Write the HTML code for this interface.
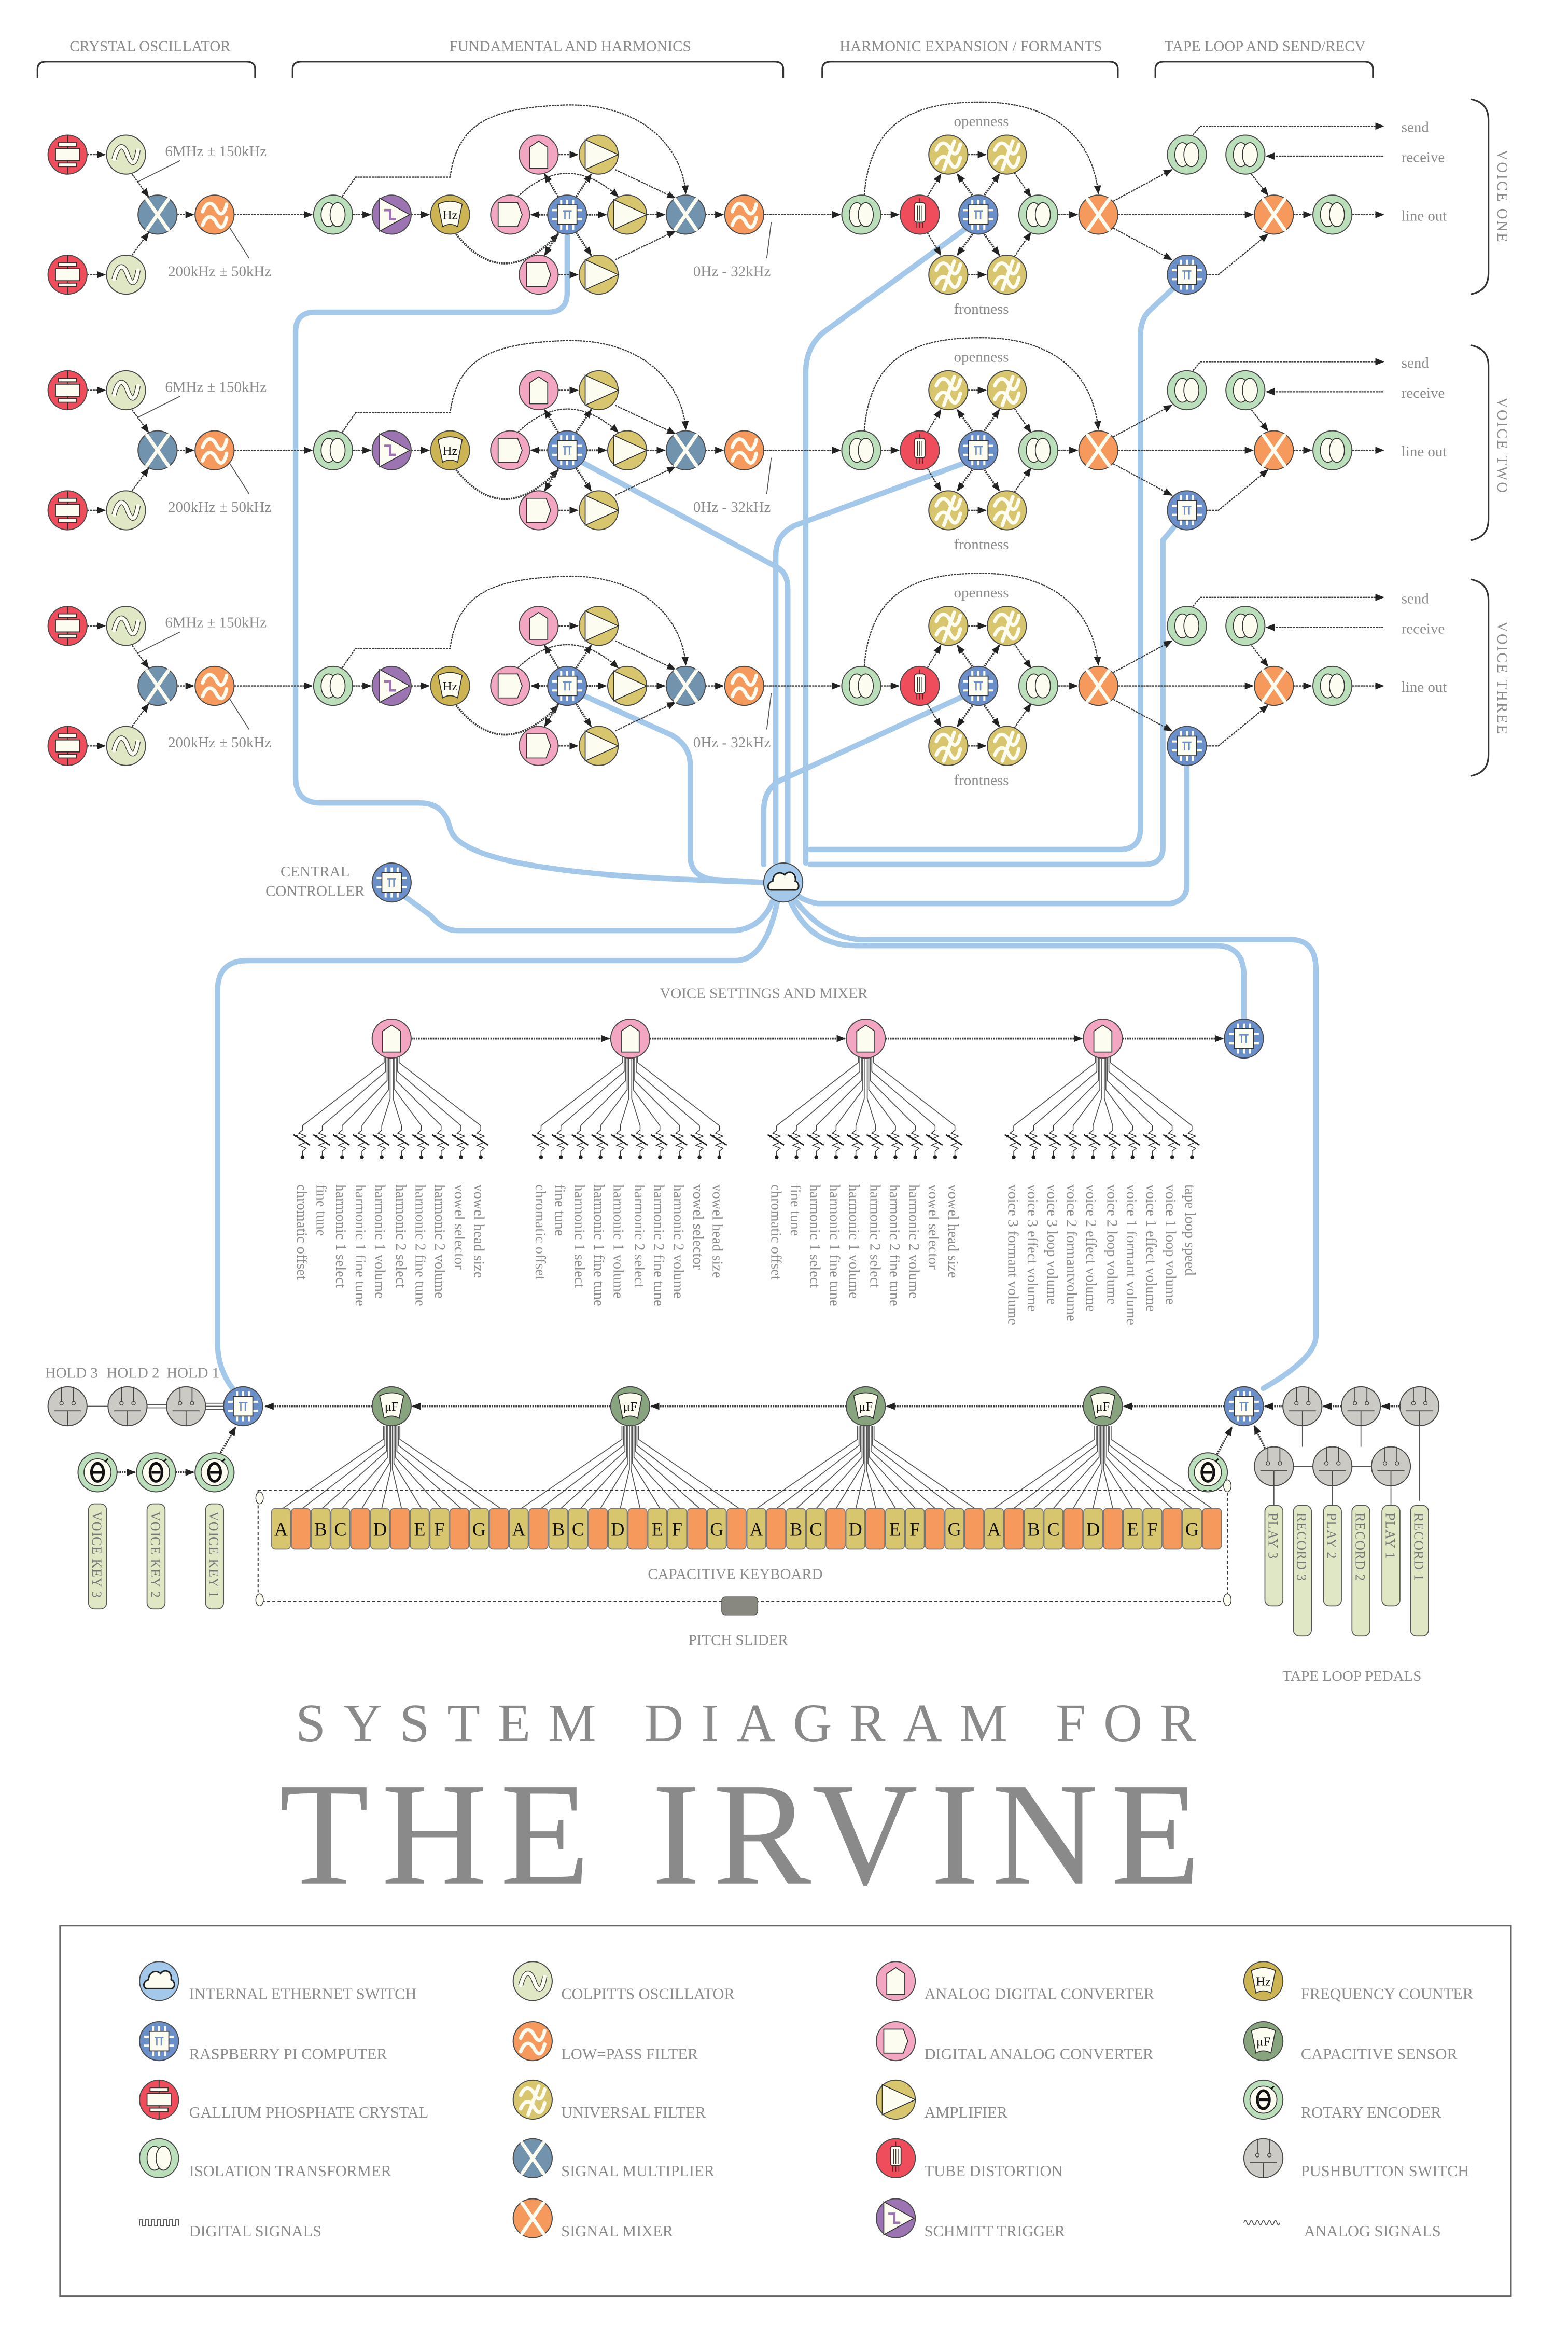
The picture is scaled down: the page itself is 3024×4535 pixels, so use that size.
<!DOCTYPE html>
<html><head><meta charset="utf-8"><style>
html,body{margin:0;padding:0;background:#fff}
svg{display:block}
text{font-family:"Liberation Serif",serif;fill:#8c8c8c}
.w path,path.w{fill:none;stroke:#3a3a3a;stroke-width:.8;stroke-dasharray:1.4 .5}
.d path,path.d{fill:none;stroke:#3a3a3a;stroke-width:1.3;stroke-dasharray:1 .6}
.l{fill:none;stroke:#555;stroke-width:.6}
.b{fill:none;stroke:#a4c8ea;stroke-width:3.6;stroke-linecap:round}
.n{stroke:#4a4a4a;stroke-width:.7}
.c{fill:#fdfcf0;stroke:#333;stroke-width:.6}
.cs{fill:none;stroke:#fdfcf0;stroke-width:2.4;stroke-linecap:round}
.br{fill:none;stroke:#333;stroke-width:1.1}
</style></head><body>
<svg width="3024" height="4535" viewBox="0 0 1045 1567.1" xmlns="http://www.w3.org/2000/svg" xmlns:xlink="http://www.w3.org/1999/xlink">
<defs>
<marker id="a" viewBox="0 0 10 10" refX="9" refY="5" markerUnits="userSpaceOnUse" markerWidth="6" markerHeight="6" orient="auto"><path d="M0,1L10,5L0,9z" fill="#222"/></marker>
<g id="crys"><circle r="13" fill="#ef4c5c" class="n"/><path d="M0,-13V13" stroke="#333" stroke-width=".6"/><rect x="-8" y="-4" width="16" height="8" class="c"/><rect x="-6" y="-8" width="12" height="2.4" class="c"/><rect x="-6" y="5.6" width="12" height="2.4" class="c"/></g>
<g id="colp"><circle r="13" fill="#dfe7c4" class="n"/><path d="M-8,3C-5,-9 -1,-6 1,0S6,9 8,-3" fill="none" stroke="#444" stroke-width="3.4"/><path d="M-8,3C-5,-9 -1,-6 1,0S6,9 8,-3" class="cs"/></g>
<g id="mult"><circle r="13" fill="#7293ad" class="n"/><path d="M-7,-10L7,10M7,-10L-7,10" class="cs" stroke-width="3.6"/></g>
<g id="mix"><circle r="13" fill="#f59a5c" class="n"/><path d="M-7,-10L7,10M7,-10L-7,10" class="cs" stroke-width="3.6"/></g>
<g id="lpf"><circle r="13" fill="#f59a5c" class="n"/><path d="M-8,-2C-5,-10 -1,-8 1,-4S6,2 8,-7M-8,7C-5,-1 -1,1 1,5S6,11 8,2" class="cs" stroke-width="3"/></g>
<g id="univ"><circle r="13" fill="#d8c66e" class="n"/><path d="M-8,-3C-5,-10 -1,-8 1,-4S6,2 8,-7M-8,6C-5,-1 -1,1 1,5S6,11 8,2M-3,10L4,-9" class="cs" stroke-width="2.6"/></g>
<g id="iso"><circle r="13" fill="#bcdfbb" class="n"/><ellipse cx="-3" rx="5" ry="8" class="c"/><ellipse cx="3" rx="5" ry="8" class="c"/></g>
<g id="sch"><circle r="13" fill="#9b74b1" class="n"/><path d="M-8,-11L12,0L-8,11Z" class="c"/><path d="M-5,-3H-1V3H3" fill="none" stroke="#9b74b1" stroke-width="1.6"/></g>
<g id="hz"><circle r="13" fill="#ccb452" class="n"/><path d="M-8,-7Q0,-11 8,-7L5,8Q0,5 -5,8Z" class="c"/></g>
<g id="uf"><circle r="13" fill="#87a47e" class="n"/><path d="M-8,-7Q0,-11 8,-7L5,8Q0,5 -5,8Z" class="c"/></g>
<g id="dac"><circle r="13" fill="#f3a6c1" class="n"/><path d="M-8,-8H5L8,0L5,8H-8Z" class="c"/></g>
<g id="adc"><circle r="13" fill="#f3a6c1" class="n"/><path d="M-6,9V-5L0,-9L6,-5V9Z" class="c"/></g>
<g id="amp"><circle r="13" fill="#d8c66e" class="n"/><path d="M-9,-10L13,0L-9,10Z" class="c"/></g>
<g id="pi"><circle r="13" fill="#6a8fc9" class="n"/><path d="M-4,-10V10M0,-10V10M4,-10V10M-10,-3H10M-10,3H10" stroke="#fdfcf0" stroke-width="1.4"/><rect x="-6.5" y="-6.5" width="13" height="13" class="c"/><path d="M-3,-2.5H3M-1.5,-2.5V3M1.5,-2.5V3" stroke="#6a8fc9" stroke-width=".9" fill="none"/></g>
<g id="tube"><circle r="13" fill="#ef4c5c" class="n"/><rect x="-3.5" y="-8" width="7" height="13" rx="1.5" class="c"/><path d="M-1.5,-6V4M0,-6V4M1.5,-6V4M-2,5V9M0,5V9M2,5V9M0,-8V-11" stroke="#333" stroke-width=".5"/></g>
<g id="cloud"><circle r="13" fill="#a4c8ea" class="n"/><path d="M-8,5C-11,5 -11,0 -7,-1C-7,-6 -2,-8 1,-5C4,-9 9,-6 8,-1C11,0 11,5 8,5Z" fill="#fdfcf0" stroke="#222" stroke-width="1"/></g>
<g id="rot"><circle r="13" fill="#bcdfbb" class="n"/><circle r="9" class="c"/><ellipse rx="4" ry="6" fill="none" stroke="#111" stroke-width="1.8"/><path d="M-3,0H3" stroke="#111" stroke-width="1.8"/><path d="M5,-7L7,-9" stroke="#111" stroke-width="1"/></g>
<g id="push"><circle r="13" fill="#cbcac4" class="n"/><path d="M-4,-13V-3M4,-13V-3M-9,3H9M0,3V13" stroke="#444" stroke-width=".6" fill="none"/><circle cx="-4" cy="-2" r="1.2" fill="none" stroke="#444" stroke-width=".5"/><circle cx="4" cy="-2" r="1.2" fill="none" stroke="#444" stroke-width=".5"/></g>

<g id="row">
<g class="w" marker-end="url(#a)">
<path d="M58,103H70" marker-end="url(#a)"/><path d="M58,183H70" marker-end="url(#a)"/><path d="M88,116L99,131" marker-end="url(#a)"/><path d="M88,170L99,155" marker-end="url(#a)"/><path d="M118,143H129" marker-end="url(#a)"/><path d="M156,143H208" marker-end="url(#a)"/><path d="M235,143H247" marker-end="url(#a)"/><path d="M274,143H286" marker-end="url(#a)"/><path d="M372,103H385" marker-end="url(#a)"/><path d="M372,183H385" marker-end="url(#a)"/><path d="M410,113L450,132" marker-end="url(#a)"/><path d="M410,173L450,154" marker-end="url(#a)"/><path d="M431,143H443" marker-end="url(#a)"/><path d="M470,143H482" marker-end="url(#a)"/><path d="M509,143H560" marker-end="url(#a)"/><path d="M345,131Q378,100 412,131" marker-end="url(#a)"/><path d="M228,131L237,118H300C305,80 330,72 375,70C430,68 455,100 457,129" marker-end="url(#a)"/><path d="M587,143H599" marker-end="url(#a)"/><path d="M618,131L627,116" marker-end="url(#a)"/><path d="M618,155L627,170" marker-end="url(#a)"/><path d="M645,103H657" marker-end="url(#a)"/><path d="M645,183H657" marker-end="url(#a)"/><path d="M676,115L687,131" marker-end="url(#a)"/><path d="M676,171L687,155" marker-end="url(#a)"/><path d="M705,143H718" marker-end="url(#a)"/><path d="M576,130C580,80 610,68 654,68C700,68 728,90 732,129" marker-end="url(#a)"/><path d="M742,134L781,113" marker-end="url(#a)"/><path d="M742,152L781,173" marker-end="url(#a)"/><path d="M745,143H835" marker-end="url(#a)"/><path d="M795,90L800,84H922" marker-end="url(#a)"/><path d="M922,104H844" marker-end="url(#a)"/><path d="M834,116L845,130" marker-end="url(#a)"/><path d="M804,183H812L845,156" marker-end="url(#a)"/><path d="M862,143H874" marker-end="url(#a)"/><path d="M901,143H922" marker-end="url(#a)"/>
</g>
<g class="d">
<path d="M304,156Q335,195 372,156" marker-end="url(#a)"/><path d="M365,143H354" marker-end="url(#a)"/><path d="M391,143H404" marker-end="url(#a)"/><path d="M372,131L363,116" marker-end="url(#a)"/><path d="M384,131L394,116" marker-end="url(#a)"/><path d="M372,155L363,170" marker-end="url(#a)"/><path d="M384,155L394,170" marker-end="url(#a)"/><path d="M648,130L638,116" marker-end="url(#a)"/><path d="M656,130L666,116" marker-end="url(#a)"/><path d="M648,156L638,170" marker-end="url(#a)"/><path d="M656,156L666,170" marker-end="url(#a)"/>
</g>
<path class="l" d="M92,121L120,107M152,150L166,172M514,148L511,172"/>
<use href="#crys" x="45" y="103"/><use href="#crys" x="45" y="183"/>
<use href="#colp" x="84" y="103"/><use href="#colp" x="84" y="183"/>
<use href="#mult" x="105" y="143"/><use href="#lpf" x="143" y="143"/>
<use href="#iso" x="222" y="143"/><use href="#sch" x="261" y="143"/><use href="#hz" x="300" y="143"/>
<use href="#dac" x="340" y="143"/><use href="#pi" x="378" y="143"/><use href="#amp" x="418" y="143"/>
<use href="#adc" x="359" y="103"/><use href="#amp" x="399" y="103"/><use href="#dac" x="359" y="183"/><use href="#amp" x="399" y="183"/>
<use href="#mult" x="457" y="143"/><use href="#lpf" x="496" y="143"/>
<use href="#iso" x="574" y="143"/><use href="#tube" x="613" y="143"/><use href="#pi" x="652" y="143"/><use href="#iso" x="692" y="143"/><use href="#mix" x="732" y="143"/>
<use href="#univ" x="632" y="103"/><use href="#univ" x="671" y="103"/><use href="#univ" x="632" y="183"/><use href="#univ" x="671" y="183"/>
<use href="#iso" x="791" y="103"/><use href="#iso" x="830" y="103"/><use href="#pi" x="791" y="183"/><use href="#mix" x="849" y="143"/><use href="#iso" x="888" y="143"/>
</g>

<g id="fanV" class="l">
<path d="M-5,12V16L-59.4,58M-4,12V22L-46.2,58M-3,12V28L-33,58M-2,12V34L-19.8,58M-1,12V40L-6.6,58M1,12V40L6.6,58M2,12V34L19.8,58M3,12V28L33,58M4,12V22L46.2,58M5,12V16L59.4,58"/>
</g>
<g id="pot"><path d="M0,0V3L-2.5,5L2.5,7L-2.5,9L2.5,11L-2.5,13L2.5,15L0,17V20" fill="none" stroke="#333" stroke-width=".5"/><path d="M-6,6L5,13" stroke="#222" stroke-width=".9"/><path d="M-6,6L-3,6.3L-4.5,8Z" fill="#222"/><circle cy="21" r="1.3" fill="#222"/></g>
<g id="potrow"><use href="#pot" x="-59.4" y="58"/><use href="#pot" x="-46.2" y="58"/><use href="#pot" x="-33" y="58"/><use href="#pot" x="-19.8" y="58"/><use href="#pot" x="-6.6" y="58"/><use href="#pot" x="6.6" y="58"/><use href="#pot" x="19.8" y="58"/><use href="#pot" x="33" y="58"/><use href="#pot" x="46.2" y="58"/><use href="#pot" x="59.4" y="58"/></g>
<g id="fanK" class="l"><path d="M-5.5,13V22L-72.6,68M-4.5,13V26L-59.4,68M-3.5,13V30L-46.2,68M-2.5,13V34L-33,68M-1.5,13V38L-19.8,68M-0.5,13V42L-6.6,68M0.5,13V42L6.6,68M1.5,13V38L19.8,68M2.5,13V34L33,68M3.5,13V30L46.2,68M4.5,13V26L59.4,68M5.5,13V22L72.6,68"/></g>
</defs>

<!-- headers -->
<g font-size="10">
<text x="100" y="34" text-anchor="middle">CRYSTAL OSCILLATOR</text>
<text x="380" y="34" text-anchor="middle">FUNDAMENTAL AND HARMONICS</text>
<text x="647" y="34" text-anchor="middle">HARMONIC EXPANSION / FORMANTS</text>
<text x="843" y="34" text-anchor="middle">TAPE LOOP AND SEND/RECV</text>
</g>
<path class="br" d="M25,52V46Q25,41 31,41H164Q170,41 170,46V52M195,52V46Q195,41 201,41H516Q522,41 522,46V52M548,52V46Q548,41 554,41H739Q745,41 745,46V52M770,52V46Q770,41 776,41H909Q915,41 915,46V52"/>

<!-- blue network -->
<g class="b">
<path d="M378,157V195Q378,208 365,208H210Q197,208 197,221V518Q197,535 214,535H280Q296,535 300,552C308,585 470,586 509,588"/>
<path d="M388,308L518,378Q525,382 525,392V575"/>
<path d="M388,463L448,490Q460,497 460,510V570Q460,584 475,586L509,588"/>
<path d="M644,152L548,222Q537,232 537,248V575"/>
<path d="M644,308L530,350Q517,356 517,370V575"/>
<path d="M644,463L520,520Q509,526 509,540V576"/>
<path d="M783,191L765,208Q760,214 760,224V552Q760,566 746,566H540"/>
<path d="M785,348L775,360V565Q775,576 762,576H540"/>
<path d="M791,508V590Q791,600 780,602H545Q535,600 531,596"/>
<path d="M515,600Q508,618 490,620H305Q295,620 287,610L268,596"/>
<path d="M518,601Q510,640 490,640H165Q145,640 145,660V895Q145,912 155,925"/>
<path d="M527,601Q540,630 570,630H810Q829,630 829,650V679"/>
<path d="M530,600Q552,628 580,626H860Q877,626 877,646V890Q877,905 842,925"/>
</g>

<!-- voice rows -->
<use href="#row"/><use href="#row" y="157"/><use href="#row" y="314"/>
<g font-size="10">
<text x="110" y="104">6MHz ± 150kHz</text><text x="112" y="184">200kHz ± 50kHz</text><text x="462" y="184">0Hz - 32kHz</text>
<text x="654" y="84" text-anchor="middle">openness</text><text x="654" y="209" text-anchor="middle">frontness</text>
<text x="934" y="88">send</text><text x="934" y="108">receive</text><text x="934" y="147">line out</text>
<text x="110" y="261">6MHz ± 150kHz</text><text x="112" y="341">200kHz ± 50kHz</text><text x="462" y="341">0Hz - 32kHz</text>
<text x="654" y="241" text-anchor="middle">openness</text><text x="654" y="366" text-anchor="middle">frontness</text>
<text x="934" y="245">send</text><text x="934" y="265">receive</text><text x="934" y="304">line out</text>
<text x="110" y="418">6MHz ± 150kHz</text><text x="112" y="498">200kHz ± 50kHz</text><text x="462" y="498">0Hz - 32kHz</text>
<text x="654" y="398" text-anchor="middle">openness</text><text x="654" y="523" text-anchor="middle">frontness</text>
<text x="934" y="402">send</text><text x="934" y="422">receive</text><text x="934" y="461">line out</text>
</g>
<g font-size="8.5" text-anchor="middle"><text x="300" y="146" style="fill:#111">Hz</text><text x="300" y="303" style="fill:#111">Hz</text><text x="300" y="460" style="fill:#111">Hz</text></g>
<path class="br" d="M980,66Q992,68 992,80V182Q992,194 980,196M980,230Q992,232 992,244V346Q992,358 980,360M980,386Q992,388 992,400V503Q992,515 980,517"/>
<g font-size="10" style="letter-spacing:1px">
<text transform="translate(998,131) rotate(90)" text-anchor="middle">VOICE ONE</text>
<text transform="translate(998,297) rotate(90)" text-anchor="middle">VOICE TWO</text>
<text transform="translate(998,452) rotate(90)" text-anchor="middle">VOICE THREE</text>
</g>

<!-- central -->
<use href="#cloud" x="522" y="588"/><use href="#pi" x="261" y="588"/>
<g font-size="10" text-anchor="middle"><text x="210" y="584">CENTRAL</text><text x="210" y="597">CONTROLLER</text></g>

<!-- voice settings -->
<text x="509" y="665" font-size="10" text-anchor="middle">VOICE SETTINGS AND MIXER</text>
<g class="d"><path d="M274,692H406" marker-end="url(#a)"/><path d="M433,692H563" marker-end="url(#a)"/><path d="M590,692H721" marker-end="url(#a)"/><path d="M748,692H815" marker-end="url(#a)"/></g>
<use href="#fanV" x="261" y="692"/><use href="#fanV" x="420" y="692"/><use href="#fanV" x="577" y="692"/><use href="#fanV" x="735" y="692"/>
<use href="#potrow" x="261" y="692"/><use href="#potrow" x="420" y="692"/><use href="#potrow" x="577" y="692"/><use href="#potrow" x="735" y="692"/>
<use href="#adc" x="261" y="692"/><use href="#adc" x="420" y="692"/><use href="#adc" x="577" y="692"/><use href="#adc" x="735" y="692"/><use href="#pi" x="829" y="692"/>
<g font-size="9.8">
<text transform="translate(198,789) rotate(90)">chromatic offset</text>
<text transform="translate(211,789) rotate(90)">fine tune</text>
<text transform="translate(224,789) rotate(90)">harmonic 1 select</text>
<text transform="translate(237,789) rotate(90)">harmonic 1 fine tune</text>
<text transform="translate(250,789) rotate(90)">harmonic 1 volume</text>
<text transform="translate(264,789) rotate(90)">harmonic 2 select</text>
<text transform="translate(277,789) rotate(90)">harmonic 2 fine tune</text>
<text transform="translate(290,789) rotate(90)">harmonic 2 volume</text>
<text transform="translate(303,789) rotate(90)">vowel selector</text>
<text transform="translate(316,789) rotate(90)">vowel head size</text>
<text transform="translate(357,789) rotate(90)">chromatic offset</text>
<text transform="translate(370,789) rotate(90)">fine tune</text>
<text transform="translate(383,789) rotate(90)">harmonic 1 select</text>
<text transform="translate(396,789) rotate(90)">harmonic 1 fine tune</text>
<text transform="translate(409,789) rotate(90)">harmonic 1 volume</text>
<text transform="translate(423,789) rotate(90)">harmonic 2 select</text>
<text transform="translate(436,789) rotate(90)">harmonic 2 fine tune</text>
<text transform="translate(449,789) rotate(90)">harmonic 2 volume</text>
<text transform="translate(462,789) rotate(90)">vowel selector</text>
<text transform="translate(475,789) rotate(90)">vowel head size</text>
<text transform="translate(514,789) rotate(90)">chromatic offset</text>
<text transform="translate(527,789) rotate(90)">fine tune</text>
<text transform="translate(540,789) rotate(90)">harmonic 1 select</text>
<text transform="translate(553,789) rotate(90)">harmonic 1 fine tune</text>
<text transform="translate(566,789) rotate(90)">harmonic 1 volume</text>
<text transform="translate(580,789) rotate(90)">harmonic 2 select</text>
<text transform="translate(593,789) rotate(90)">harmonic 2 fine tune</text>
<text transform="translate(606,789) rotate(90)">harmonic 2 volume</text>
<text transform="translate(619,789) rotate(90)">vowel selector</text>
<text transform="translate(632,789) rotate(90)">vowel head size</text>
<text transform="translate(672,789) rotate(90)">voice 3 formant volume</text>
<text transform="translate(685,789) rotate(90)">voice 3 effect volume</text>
<text transform="translate(698,789) rotate(90)">voice 3 loop volume</text>
<text transform="translate(711,789) rotate(90)">voice 2 formantvolume</text>
<text transform="translate(724,789) rotate(90)">voice 2 effect volume</text>
<text transform="translate(738,789) rotate(90)">voice 2 loop volume</text>
<text transform="translate(751,789) rotate(90)">voice 1 formant volume</text>
<text transform="translate(764,789) rotate(90)">voice 1 effect volume</text>
<text transform="translate(777,789) rotate(90)">voice 1 loop volume</text>
<text transform="translate(790,789) rotate(90)">tape loop speed</text>
</g>

<!-- keyboard section -->
<g font-size="10"><text x="30" y="918">HOLD 3</text><text x="71" y="918">HOLD 2</text><text x="111" y="918">HOLD 1</text></g>
<path class="l" d="M58,937H72M98,936H111M98,938H111M137,935H149M137,937H149M137,939H149" stroke="#222" stroke-width=".8"/>
<g class="d">
<path d="M248,937H177" marker-end="url(#a)"/><path d="M407,937H275" marker-end="url(#a)"/><path d="M564,937H434" marker-end="url(#a)"/><path d="M722,937H591" marker-end="url(#a)"/><path d="M816,937H749" marker-end="url(#a)"/><path d="M78,981H90" marker-end="url(#a)"/><path d="M117,981H129" marker-end="url(#a)"/><path d="M147,968L157,951" marker-end="url(#a)"/><path d="M855,937H843" marker-end="url(#a)"/><path d="M894,937H882" marker-end="url(#a)"/><path d="M933,937H921" marker-end="url(#a)"/><path d="M843,965L836,950" marker-end="url(#a)"/><path d="M811,969L821,951" marker-end="url(#a)"/>
</g>
<path class="l" d="M862,977H875M901,977H914M868,950V964M907,950V964M946,950V1000M849,990V1003M888,990V1003M927,990V1003"/>
<use href="#fanK" x="261" y="937"/><use href="#fanK" x="420" y="937"/><use href="#fanK" x="577" y="937"/><use href="#fanK" x="735" y="937"/>
<use href="#push" x="45" y="937"/><use href="#push" x="85" y="937"/><use href="#push" x="124" y="937"/>
<use href="#pi" x="162" y="937"/><use href="#pi" x="829" y="937"/>
<use href="#uf" x="261" y="937"/><use href="#uf" x="420" y="937"/><use href="#uf" x="577" y="937"/><use href="#uf" x="735" y="937"/>
<g font-size="8.5" text-anchor="middle"><text x="261" y="940" style="fill:#111">μF</text><text x="420" y="940" style="fill:#111">μF</text><text x="577" y="940" style="fill:#111">μF</text><text x="735" y="940" style="fill:#111">μF</text></g>
<use href="#push" x="868" y="937"/><use href="#push" x="907" y="937"/><use href="#push" x="946" y="937"/>
<use href="#push" x="849" y="977"/><use href="#push" x="888" y="977"/><use href="#push" x="927" y="977"/>
<use href="#rot" x="65" y="981"/><use href="#rot" x="104" y="981"/><use href="#rot" x="143" y="981"/><use href="#rot" x="805" y="981"/>
<g fill="#dfe7c4" stroke="#555" stroke-width=".6">
<rect x="59" y="1002" width="12" height="70" rx="4"/><rect x="98" y="1002" width="12" height="70" rx="4"/><rect x="137" y="1002" width="12" height="70" rx="4"/>
<rect x="843" y="1003" width="12" height="67" rx="4"/><rect x="862" y="1003" width="12" height="87" rx="4"/><rect x="882" y="1003" width="12" height="67" rx="4"/><rect x="901" y="1003" width="12" height="87" rx="4"/><rect x="921" y="1003" width="12" height="67" rx="4"/><rect x="940" y="1003" width="12" height="87" rx="4"/>
</g>
<g font-size="9" style="letter-spacing:.3px">
<text transform="translate(61.5,1007) rotate(90)" style="fill:#777">VOICE KEY 3</text>
<text transform="translate(100.5,1007) rotate(90)" style="fill:#777">VOICE KEY 2</text>
<text transform="translate(139.5,1007) rotate(90)" style="fill:#777">VOICE KEY 1</text>
<text transform="translate(845.5,1008) rotate(90)" style="fill:#777">PLAY 3</text>
<text transform="translate(864.5,1008) rotate(90)" style="fill:#777">RECORD 3</text>
<text transform="translate(884.5,1008) rotate(90)" style="fill:#777">PLAY 2</text>
<text transform="translate(903.5,1008) rotate(90)" style="fill:#777">RECORD 2</text>
<text transform="translate(923.5,1008) rotate(90)" style="fill:#777">PLAY 1</text>
<text transform="translate(942.5,1008) rotate(90)" style="fill:#777">RECORD 1</text>
</g>
<rect x="172" y="993" width="646" height="74" fill="none" stroke="#333" stroke-width=".7" stroke-dasharray="2 1.5"/>
<g fill="#fdfcf0" stroke="#333" stroke-width=".5"><ellipse cx="173" cy="998" rx="2.5" ry="4"/><ellipse cx="173" cy="1066" rx="2.5" ry="4"/><ellipse cx="818" cy="990" rx="2.5" ry="4"/><ellipse cx="818" cy="1066" rx="2.5" ry="4"/></g>
<rect x="481" y="1064" width="24" height="12" rx="2.5" fill="#888880" stroke="#555" stroke-width=".5"/>
<g stroke="#777" stroke-width=".6">
<g fill="#d8c66e">
<rect x="181" y="1005" width="12.6" height="27" rx="2.5"/><rect x="207.4" y="1005" width="12.6" height="27" rx="2.5"/><rect x="220.6" y="1005" width="12.6" height="27" rx="2.5"/><rect x="247" y="1005" width="12.6" height="27" rx="2.5"/><rect x="273.4" y="1005" width="12.6" height="27" rx="2.5"/><rect x="286.6" y="1005" width="12.6" height="27" rx="2.5"/><rect x="313" y="1005" width="12.6" height="27" rx="2.5"/>
<rect x="339.4" y="1005" width="12.6" height="27" rx="2.5"/><rect x="365.8" y="1005" width="12.6" height="27" rx="2.5"/><rect x="379" y="1005" width="12.6" height="27" rx="2.5"/><rect x="405.4" y="1005" width="12.6" height="27" rx="2.5"/><rect x="431.8" y="1005" width="12.6" height="27" rx="2.5"/><rect x="445" y="1005" width="12.6" height="27" rx="2.5"/><rect x="471.4" y="1005" width="12.6" height="27" rx="2.5"/>
<rect x="497.8" y="1005" width="12.6" height="27" rx="2.5"/><rect x="524.2" y="1005" width="12.6" height="27" rx="2.5"/><rect x="537.4" y="1005" width="12.6" height="27" rx="2.5"/><rect x="563.8" y="1005" width="12.6" height="27" rx="2.5"/><rect x="590.2" y="1005" width="12.6" height="27" rx="2.5"/><rect x="603.4" y="1005" width="12.6" height="27" rx="2.5"/><rect x="629.8" y="1005" width="12.6" height="27" rx="2.5"/>
<rect x="656.2" y="1005" width="12.6" height="27" rx="2.5"/><rect x="682.6" y="1005" width="12.6" height="27" rx="2.5"/><rect x="695.8" y="1005" width="12.6" height="27" rx="2.5"/><rect x="722.2" y="1005" width="12.6" height="27" rx="2.5"/><rect x="748.6" y="1005" width="12.6" height="27" rx="2.5"/><rect x="761.8" y="1005" width="12.6" height="27" rx="2.5"/><rect x="788.2" y="1005" width="12.6" height="27" rx="2.5"/>
</g>
<g fill="#f59a5c">
<rect x="194.2" y="1005" width="12.6" height="27" rx="2.5"/><rect x="233.8" y="1005" width="12.6" height="27" rx="2.5"/><rect x="260.2" y="1005" width="12.6" height="27" rx="2.5"/><rect x="299.8" y="1005" width="12.6" height="27" rx="2.5"/><rect x="326.2" y="1005" width="12.6" height="27" rx="2.5"/>
<rect x="352.6" y="1005" width="12.6" height="27" rx="2.5"/><rect x="392.2" y="1005" width="12.6" height="27" rx="2.5"/><rect x="418.6" y="1005" width="12.6" height="27" rx="2.5"/><rect x="458.2" y="1005" width="12.6" height="27" rx="2.5"/><rect x="484.6" y="1005" width="12.6" height="27" rx="2.5"/>
<rect x="511" y="1005" width="12.6" height="27" rx="2.5"/><rect x="550.6" y="1005" width="12.6" height="27" rx="2.5"/><rect x="577" y="1005" width="12.6" height="27" rx="2.5"/><rect x="616.6" y="1005" width="12.6" height="27" rx="2.5"/><rect x="643" y="1005" width="12.6" height="27" rx="2.5"/>
<rect x="669.4" y="1005" width="12.6" height="27" rx="2.5"/><rect x="709" y="1005" width="12.6" height="27" rx="2.5"/><rect x="735.4" y="1005" width="12.6" height="27" rx="2.5"/><rect x="775" y="1005" width="12.6" height="27" rx="2.5"/><rect x="801.4" y="1005" width="12.6" height="27" rx="2.5"/>
</g>
</g>
<g font-size="12.5" text-anchor="middle">
<text x="187.3" y="1023" style="fill:#111">A</text><text x="213.7" y="1023" style="fill:#111">B</text><text x="226.9" y="1023" style="fill:#111">C</text><text x="253.3" y="1023" style="fill:#111">D</text><text x="279.7" y="1023" style="fill:#111">E</text><text x="292.9" y="1023" style="fill:#111">F</text><text x="319.3" y="1023" style="fill:#111">G</text>
<text x="345.7" y="1023" style="fill:#111">A</text><text x="372.1" y="1023" style="fill:#111">B</text><text x="385.3" y="1023" style="fill:#111">C</text><text x="411.7" y="1023" style="fill:#111">D</text><text x="438.1" y="1023" style="fill:#111">E</text><text x="451.3" y="1023" style="fill:#111">F</text><text x="477.7" y="1023" style="fill:#111">G</text>
<text x="504.1" y="1023" style="fill:#111">A</text><text x="530.5" y="1023" style="fill:#111">B</text><text x="543.7" y="1023" style="fill:#111">C</text><text x="570.1" y="1023" style="fill:#111">D</text><text x="596.5" y="1023" style="fill:#111">E</text><text x="609.7" y="1023" style="fill:#111">F</text><text x="636.1" y="1023" style="fill:#111">G</text>
<text x="662.5" y="1023" style="fill:#111">A</text><text x="688.9" y="1023" style="fill:#111">B</text><text x="702.1" y="1023" style="fill:#111">C</text><text x="728.5" y="1023" style="fill:#111">D</text><text x="754.9" y="1023" style="fill:#111">E</text><text x="768.1" y="1023" style="fill:#111">F</text><text x="794.5" y="1023" style="fill:#111">G</text>
</g>
<g font-size="10" text-anchor="middle"><text x="490" y="1052">CAPACITIVE KEYBOARD</text><text x="492" y="1096">PITCH SLIDER</text><text x="901" y="1120">TAPE LOOP PEDALS</text></g>

<!-- title -->
<text x="197" y="1160" font-size="36" textLength="600" lengthAdjust="spacing" style="fill:#8a8a8a">SYSTEM DIAGRAM FOR</text>
<text x="186" y="1255" font-size="98" textLength="614" lengthAdjust="spacing" style="fill:#8a8a8a">THE IRVINE</text>

<!-- legend -->
<rect x="40" y="1283" width="967" height="247" fill="none" stroke="#666" stroke-width="1"/>
<use href="#cloud" x="106" y="1320"/><use href="#pi" x="106" y="1360"/><use href="#crys" x="106" y="1399"/><use href="#iso" x="106" y="1438"/>
<path d="M93,1483V1479H95V1483H97V1479H99V1483H101V1479H103V1483H105V1479H107V1483H109V1479H111V1483H113V1479H115V1483H117V1479H119V1483" fill="none" stroke="#555" stroke-width=".6"/>
<use href="#colp" x="355" y="1320"/><use href="#lpf" x="355" y="1360"/><use href="#univ" x="355" y="1399"/><use href="#mult" x="355" y="1438"/><use href="#mix" x="355" y="1478"/>
<use href="#adc" x="597" y="1320"/><use href="#dac" x="597" y="1360"/><use href="#amp" x="597" y="1399"/><use href="#tube" x="597" y="1438"/><use href="#sch" x="597" y="1478"/>
<use href="#hz" x="842" y="1320"/><use href="#uf" x="842" y="1360"/><use href="#rot" x="842" y="1399"/><use href="#push" x="842" y="1438"/>
<text x="842" y="1323" font-size="8.5" text-anchor="middle" style="fill:#111">Hz</text><text x="842" y="1363" font-size="8.5" text-anchor="middle" style="fill:#111">μF</text>
<path d="M829,1481q1,-3 2,0t2,0t2,0t2,0t2,0t2,0t2,0t2,0t2,0t2,0t2,0t2,0" fill="none" stroke="#555" stroke-width=".6"/>
<g font-size="10.5">
<text x="126" y="1332">INTERNAL ETHERNET SWITCH</text><text x="126" y="1372">RASPBERRY PI COMPUTER</text><text x="126" y="1411">GALLIUM PHOSPHATE CRYSTAL</text><text x="126" y="1450">ISOLATION TRANSFORMER</text><text x="126" y="1490">DIGITAL SIGNALS</text>
<text x="374" y="1332">COLPITTS OSCILLATOR</text><text x="374" y="1372">LOW=PASS FILTER</text><text x="374" y="1411">UNIVERSAL FILTER</text><text x="374" y="1450">SIGNAL MULTIPLIER</text><text x="374" y="1490">SIGNAL MIXER</text>
<text x="616" y="1332">ANALOG DIGITAL CONVERTER</text><text x="616" y="1372">DIGITAL ANALOG CONVERTER</text><text x="616" y="1411">AMPLIFIER</text><text x="616" y="1450">TUBE DISTORTION</text><text x="616" y="1490">SCHMITT TRIGGER</text>
<text x="867" y="1332">FREQUENCY COUNTER</text><text x="867" y="1372">CAPACITIVE SENSOR</text><text x="867" y="1411">ROTARY ENCODER</text><text x="867" y="1450">PUSHBUTTON SWITCH</text><text x="869" y="1490">ANALOG SIGNALS</text>
</g>
</svg>
</body></html>
